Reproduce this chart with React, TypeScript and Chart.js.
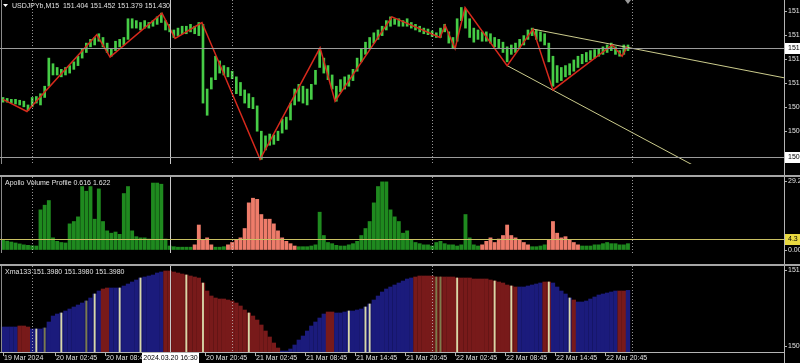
import { useEffect, useRef } from "react";
import { Chart, registerables } from "chart.js";

Chart.register(...registerables);

// ---------- time axis (units = M15 bars, one drawn bar per 30 minutes) ----------
const X_MIN = -1.44;
const X_MAX = 374.9;
const BAR_STEP = 2;

const xTickUnits = [0, 25, 49, 73, 97, 121, 145, 169, 193, 217, 241, 265, 289];
const xTickLabels = [
  "19 Mar 2024", "20 Mar 02:45", "20 Mar 08:45", "20 Mar 14:45", "20 Mar 20:45",
  "21 Mar 02:45", "21 Mar 08:45", "21 Mar 14:45", "21 Mar 20:45",
  "22 Mar 02:45", "22 Mar 08:45", "22 Mar 14:45", "22 Mar 20:45",
];
const daySeparatorUnits = [14, 110, 206, 302];
const crosshairUnit = 80;
const crosshairLabel = "2024.03.20 16:30";

// ---------- main price pane ----------
const mainTitle = "USDJPYb,M15  151.404 151.452 151.379 151.430";
const priceHighs = [
  151.008, 151.000, 150.992, 150.992, 150.984, 150.976, 150.944, 151.008, 151.016, 151.040,
  151.104, 151.344, 151.296, 151.264, 151.248, 151.264, 151.280, 151.312, 151.360, 151.424,
  151.472, 151.504, 151.520, 151.552, 151.520, 151.472, 151.424, 151.488, 151.504, 151.520,
  151.680, 151.680, 151.664, 151.648, 151.664, 151.648, 151.664, 151.696, 151.728, 151.664,
  151.632, 151.584, 151.600, 151.616, 151.616, 151.632, 151.616, 151.648, 151.632, 151.080,
  151.176, 151.360, 151.320, 151.280, 151.264, 151.232, 151.184, 151.136, 151.072, 151.040,
  151.008, 150.936, 150.720, 150.680, 150.696, 150.688, 150.720, 150.824, 150.840, 150.960,
  151.080, 151.120, 151.104, 151.080, 151.120, 151.240, 151.424, 151.344, 151.280, 151.200,
  151.104, 151.160, 151.184, 151.200, 151.248, 151.344, 151.424, 151.480, 151.520, 151.560,
  151.584, 151.616, 151.664, 151.696, 151.680, 151.680, 151.664, 151.680, 151.648, 151.632,
  151.616, 151.600, 151.592, 151.576, 151.560, 151.600, 151.632, 151.568, 151.520, 151.680,
  151.776, 151.760, 151.680, 151.600, 151.584, 151.568, 151.568, 151.552, 151.520, 151.504,
  151.480, 151.440, 151.456, 151.472, 151.504, 151.536, 151.584, 151.600, 151.584, 151.568,
  151.552, 151.472, 151.360, 151.280, 151.264, 151.280, 151.296, 151.328, 151.360, 151.376,
  151.392, 151.408, 151.416, 151.424, 151.440, 151.456, 151.472, 151.440, 151.408, 151.456,
  151.456,
];
const priceLows = [
  150.968, 150.968, 150.960, 150.952, 150.944, 150.928, 150.896, 150.928, 150.960, 150.944,
  151.008, 151.104, 151.200, 151.200, 151.184, 151.200, 151.216, 151.248, 151.280, 151.344,
  151.392, 151.440, 151.456, 151.488, 151.440, 151.392, 151.360, 151.408, 151.440, 151.456,
  151.504, 151.600, 151.600, 151.584, 151.600, 151.600, 151.616, 151.632, 151.648, 151.584,
  151.568, 151.520, 151.536, 151.552, 151.552, 151.568, 151.552, 151.536, 150.960, 150.856,
  151.080, 151.160, 151.216, 151.200, 151.184, 151.168, 151.040, 151.024, 150.960, 150.920,
  150.912, 150.720, 150.480, 150.560, 150.600, 150.608, 150.640, 150.704, 150.736, 150.816,
  150.944, 150.976, 150.960, 150.944, 150.992, 151.120, 151.264, 151.216, 151.160, 151.080,
  150.976, 151.056, 151.080, 151.104, 151.152, 151.232, 151.312, 151.376, 151.424, 151.472,
  151.504, 151.536, 151.584, 151.616, 151.632, 151.616, 151.616, 151.616, 151.600, 151.584,
  151.568, 151.552, 151.544, 151.528, 151.520, 151.520, 151.568, 151.472, 151.424, 151.488,
  151.664, 151.600, 151.520, 151.480, 151.504, 151.488, 151.488, 151.472, 151.440, 151.424,
  151.392, 151.312, 151.376, 151.392, 151.424, 151.456, 151.504, 151.536, 151.504, 151.488,
  151.456, 151.312, 151.104, 151.136, 151.152, 151.184, 151.200, 151.232, 151.264, 151.296,
  151.312, 151.328, 151.344, 151.360, 151.376, 151.392, 151.408, 151.376, 151.360, 151.376,
  151.408,
];
const zigzagUnits = [0, 11.5, 45, 51.4, 76.3, 82.6, 95.5, 123.4, 152.2, 159.4, 186.7, 209.8, 212.2, 217, 221.8, 242, 254.4, 264, 292.4, 297.2, 299.6];
const zigzagPrices = [150.992, 150.888, 151.544, 151.352, 151.728, 151.512, 151.648, 150.480, 151.432, 150.976, 151.696, 151.520, 151.624, 151.424, 151.776, 151.280, 151.592, 151.072, 151.456, 151.360, 151.440];
const upperTrendUnits = [254.4, 374.9];
const upperTrendPrices = [151.592, 151.176];
const lowerTrendUnits = [242, 331];
const lowerTrendPrices = [151.28, 150.432];
const bidPrice = 151.43;
const crosshairPrice = 150.504;
const priceAxisTicks = [151.744, 151.54, 151.336, 151.132, 150.928, 150.72];
const PRICE_MIN = 150.44;
const PRICE_MAX = 151.84;

// ---------- volume pane ----------
const volumeTitle = "Apollo Volume Profile 0.616 1.622";
const volumeValues = [
  4.1, 3.6, 3.2, 2.8, 2.4, 2.0, 1.8, 1.6, 1.5, 17,
  19, 21, 5, 3.5, 3, 2.8, 11, 12, 14, 27,
  25, 27, 13, 26, 12, 8, 7, 7.5, 6.5, 24,
  27, 8, 5.5, 5, 5, 4.5, 28.5, 28.5, 28, 4.5,
  1.5, 1.2, 1, 1, 1, 1, 2, 10.5, 4, 5,
  2, 1, 1, 1.2, 2, 3, 4, 5, 9, 20,
  22, 21.5, 15, 13, 13, 11, 8, 5, 3.5, 2.5,
  1.5, 1.2, 1.2, 1.2, 1.5, 2, 16, 6, 3, 2.5,
  1.8, 1.5, 1.5, 2, 2.5, 3.5, 6, 9, 12, 20,
  27, 29, 29, 17, 14, 12, 7, 8, 4, 3,
  2.5, 2, 2, 1.5, 3, 3.5, 2.5, 2, 2, 1.5,
  2, 15, 5, 2, 1.5, 2, 3.5, 5, 3, 4.5,
  6, 10.5, 6, 5, 4, 3, 2, 1.2, 1.2, 1.5,
  2, 4, 12, 7, 5, 5.5, 4, 3, 2, 1.5,
  1.5, 1.5, 2, 2, 2.5, 3, 2.5, 2.5, 2, 2, 2.5,
];
const volumeColorRuns: [number, string][] = [
  [46, "g"], [5, "r"], [3, "g"], [17, "r"], [44, "g"], [12, "r"], [4, "g"], [8, "r"], [12, "g"],
];
const volumeLevel = 4.3;
const volumeAxisLabels: [number, string][] = [[29.2, "29.25"], [0, "0.00"]];
const VOL_MIN = -1.5;
const VOL_MAX = 31.09;

// ---------- Xma pane ----------
const xmaTitle = "Xma133 151.3980 151.3980 151.3980";
const xmaValues = [
  150.995, 150.995, 150.995, 150.995, 151.006, 151.006, 150.995, 150.973, 150.973, 150.973,
  150.984, 151.050, 151.116, 151.138, 151.149, 151.171, 151.193, 151.215, 151.237, 151.259,
  151.281, 151.314, 151.358, 151.391, 151.413, 151.424, 151.424, 151.424, 151.424, 151.446,
  151.468, 151.490, 151.512, 151.534, 151.545, 151.556, 151.567, 151.589, 151.600, 151.611,
  151.611, 151.600, 151.589, 151.578, 151.567, 151.556, 151.545, 151.534, 151.479, 151.391,
  151.336, 151.314, 151.303, 151.303, 151.292, 151.281, 151.259, 151.226, 151.182, 151.149,
  151.116, 151.072, 151.017, 150.951, 150.885, 150.819, 150.764, 150.731, 150.731, 150.753,
  150.797, 150.852, 150.896, 150.951, 151.006, 151.050, 151.094, 151.138, 151.160, 151.160,
  151.149, 151.149, 151.160, 151.171, 151.171, 151.182, 151.193, 151.215, 151.248, 151.292,
  151.336, 151.380, 151.413, 151.435, 151.457, 151.479, 151.501, 151.523, 151.534, 151.545,
  151.556, 151.556, 151.556, 151.556, 151.545, 151.545, 151.545, 151.545, 151.545, 151.534,
  151.534, 151.534, 151.534, 151.523, 151.523, 151.523, 151.523, 151.512, 151.501, 151.490,
  151.479, 151.457, 151.446, 151.435, 151.435, 151.435, 151.446, 151.457, 151.468, 151.479,
  151.490, 151.490, 151.479, 151.435, 151.391, 151.358, 151.314, 151.292, 151.270, 151.270,
  151.281, 151.303, 151.325, 151.347, 151.358, 151.369, 151.380, 151.391, 151.391, 151.391,
  151.398,
];
// b = falling-blue, r = rising-red, y / o = thin neutral marker bars
const xmaTrend =
  "bbbbrrrbybobbbybbbbbobybrrbbybbbbybbbbbrrrrryrrryrrrrrrrrrryrrrrrrrbbbbbbbbbbbrrbbbybbbyybbbbbbbbbbrrrrroorrryrrrrrrrryrrryrbbbbbbrybbbbyrbbbbbbbbbbrrb";
const xmaAxisLabels: [number, string][] = [[151.622, "151.622"], [150.786, "150.786"]];
const XMA_MIN = 150.72;
const XMA_MAX = 151.666;

// ---------- styling ----------
const FONT = '7px "Liberation Sans", Arial, sans-serif';
const TEXT = "#e2e2e2";
const FRAME = "#b4b4b4";
const XMA_COLORS: Record<string, string> = { b: "#1b1b7c", r: "#781a1a", y: "#d8d8a8", o: "#7c7c4c" };
const VOL_COLORS: Record<string, string> = { g: "#1f8a1f", r: "#ee7c6a" };

const volumeColors: string[] = [];
volumeColorRuns.forEach(([n, c]) => {
  for (let i = 0; i < n; i++) volumeColors.push(VOL_COLORS[c]);
});

// base fill colour of each Xma bar (markers sit on top of the previous trend colour)
const xmaCodes = xmaTrend.split("");
const xmaBaseColors: string[] = [];
let lastTrend = "b";
xmaCodes.forEach((c) => {
  if (c === "b" || c === "r") lastTrend = c;
  xmaBaseColors.push(XMA_COLORS[lastTrend]);
});

function vLine(ctx: CanvasRenderingContext2D, x: number, y0: number, y1: number, color: string, dash: number[] = []) {
  ctx.save();
  ctx.strokeStyle = color;
  ctx.lineWidth = 1;
  ctx.setLineDash(dash);
  ctx.beginPath();
  ctx.moveTo(Math.round(x) + 0.5, y0);
  ctx.lineTo(Math.round(x) + 0.5, y1);
  ctx.stroke();
  ctx.restore();
}
function hLine(ctx: CanvasRenderingContext2D, y: number, x0: number, x1: number, color: string) {
  ctx.save();
  ctx.strokeStyle = color;
  ctx.lineWidth = 1;
  ctx.beginPath();
  ctx.moveTo(x0, Math.round(y) + 0.5);
  ctx.lineTo(x1, Math.round(y) + 0.5);
  ctx.stroke();
  ctx.restore();
}
function rightLabel(ctx: CanvasRenderingContext2D, right: number, y: number, text: string, box?: string) {
  ctx.save();
  ctx.font = FONT;
  ctx.textBaseline = "middle";
  ctx.textAlign = "left";
  if (box) {
    ctx.fillStyle = box;
    ctx.fillRect(right + 1, Math.round(y) - 5, 20, 11);
    ctx.fillStyle = "#000";
  } else {
    hLine(ctx, y, right, right + 3, FRAME);
    ctx.fillStyle = TEXT;
  }
  ctx.fillText(text, right + 4, Math.round(y) + 0.5);
  ctx.restore();
}
function title(ctx: CanvasRenderingContext2D, text: string, x: number, y: number) {
  ctx.save();
  ctx.font = FONT;
  ctx.textBaseline = "middle";
  ctx.fillStyle = TEXT;
  ctx.fillText(text, x, y);
  ctx.restore();
}
function commonFrame(chart: any) {
  const { ctx, chartArea: a, scales } = chart;
  const x = scales.x;
  daySeparatorUnits.forEach((u) => vLine(ctx, x.getPixelForValue(u), a.top, a.bottom, "rgba(200,200,200,0.75)", [1, 2]));
  vLine(ctx, x.getPixelForValue(crosshairUnit), a.top, a.bottom, "#c8c8c8");
  vLine(ctx, a.right, 0, chart.height, FRAME);
  vLine(ctx, 1, a.top, a.bottom, "#8a8a8a");
}

const xScale = (display: boolean) => ({
  type: "linear" as const,
  min: X_MIN,
  max: X_MAX,
  offset: false,
  display,
  grid: { display: false },
  border: { display: false },
  ticks: { display: false },
  afterFit: (s: any) => {
    s.height = 11;
  },
});
const yScale = (min: number, max: number) => ({
  type: "linear" as const,
  position: "right" as const,
  min,
  max,
  grid: { display: false },
  border: { display: false },
  ticks: { display: false },
  afterFit: (s: any) => {
    s.width = 16;
  },
});
const baseOptions = {
  animation: false as const,
  responsive: false,
  maintainAspectRatio: false,
  layout: { padding: 0 },
  events: [] as any[],
  plugins: { legend: { display: false }, tooltip: { enabled: false } },
};

function mainConfig(): any {
  return {
    type: "bar",
    data: {
      datasets: [
        {
          type: "line",
          data: zigzagUnits.map((u, i) => ({ x: u, y: zigzagPrices[i] })),
          borderColor: "#d6291c",
          borderWidth: 1.5,
          pointRadius: 0,
          order: 0,
        },
        {
          type: "line",
          data: upperTrendUnits.map((u, i) => ({ x: u, y: upperTrendPrices[i] })),
          borderColor: "#cbcb8c",
          borderWidth: 1,
          pointRadius: 0,
          order: 1,
        },
        {
          type: "line",
          data: lowerTrendUnits.map((u, i) => ({ x: u, y: lowerTrendPrices[i] })),
          borderColor: "#cbcb8c",
          borderWidth: 1,
          pointRadius: 0,
          order: 1,
        },
        {
          type: "bar",
          data: priceHighs.map((h, i) => ({ x: i * BAR_STEP, y: [priceLows[i], h] })),
          backgroundColor: "#46cc46",
          barThickness: 2,
          order: 2,
        },
      ],
    },
    options: {
      ...baseOptions,
      scales: { x: xScale(false), y: yScale(PRICE_MIN, PRICE_MAX) },
    },
    plugins: [
      {
        id: "mainOverlay",
        afterDatasetsDraw(chart: any) {
          const { ctx, chartArea: a, scales } = chart;
          const y = scales.y;
          commonFrame(chart);
          hLine(ctx, y.getPixelForValue(bidPrice), a.left, a.right, "#9c9c9c");
          hLine(ctx, y.getPixelForValue(crosshairPrice), a.left, a.right, "#9c9c9c");
          priceAxisTicks.forEach((v) => rightLabel(ctx, a.right, y.getPixelForValue(v), v.toFixed(3)));
          rightLabel(ctx, a.right, y.getPixelForValue(bidPrice), bidPrice.toFixed(3), "#ffffff");
          rightLabel(ctx, a.right, y.getPixelForValue(crosshairPrice), crosshairPrice.toFixed(3), "#ffffff");
          title(ctx, mainTitle, 12, 6);
          ctx.save();
          ctx.fillStyle = "#ffffff";
          ctx.beginPath();
          ctx.moveTo(3, 4);
          ctx.lineTo(8, 4);
          ctx.lineTo(5.5, 7);
          ctx.closePath();
          ctx.fill();
          ctx.fillStyle = "#9a9a9a";
          const sx = scales.x.getPixelForValue(300);
          ctx.beginPath();
          ctx.moveTo(sx - 3, 0);
          ctx.lineTo(sx + 3, 0);
          ctx.lineTo(sx, 4);
          ctx.closePath();
          ctx.fill();
          ctx.restore();
        },
      },
    ],
  };
}

function volumeConfig(): any {
  return {
    type: "bar",
    data: {
      datasets: [
        {
          data: volumeValues.map((v, i) => ({ x: i * BAR_STEP, y: v })),
          backgroundColor: volumeColors,
          barThickness: 3.2,
        },
      ],
    },
    options: {
      ...baseOptions,
      scales: { x: xScale(false), y: yScale(VOL_MIN, VOL_MAX) },
    },
    plugins: [
      {
        id: "volOverlay",
        afterDatasetsDraw(chart: any) {
          const { ctx, chartArea: a, scales } = chart;
          const y = scales.y;
          commonFrame(chart);
          hLine(ctx, y.getPixelForValue(volumeLevel), a.left, a.right, "#c9c063");
          volumeAxisLabels.forEach(([v, t]) => rightLabel(ctx, a.right, y.getPixelForValue(v), t));
          rightLabel(ctx, a.right, y.getPixelForValue(volumeLevel), String(volumeLevel), "#e8d840");
          title(ctx, volumeTitle, 5, 6);
        },
      },
    ],
  };
}

function xmaConfig(): any {
  const markerData: { x: number; y: [number, number] }[] = [];
  const markerColors: string[] = [];
  xmaCodes.forEach((c, i) => {
    if (c === "y" || c === "o") {
      markerData.push({ x: i * BAR_STEP, y: [XMA_MIN - 0.02, xmaValues[i]] });
      markerColors.push(XMA_COLORS[c]);
    }
  });
  return {
    type: "bar",
    data: {
      datasets: [
        {
          data: markerData,
          backgroundColor: markerColors,
          barThickness: 1.2,
          grouped: false,
          order: 0,
        },
        {
          data: xmaValues.map((v, i) => ({ x: i * BAR_STEP, y: [XMA_MIN - 0.02, v] })),
          backgroundColor: xmaBaseColors,
          barThickness: 3.7,
          grouped: false,
          order: 1,
        },
      ],
    },
    options: {
      ...baseOptions,
      scales: { x: xScale(true), y: yScale(XMA_MIN, XMA_MAX) },
    },
    plugins: [
      {
        id: "xmaOverlay",
        afterDatasetsDraw(chart: any) {
          const { ctx, chartArea: a, scales } = chart;
          const x = scales.x;
          const y = scales.y;
          commonFrame(chart);
          hLine(ctx, a.bottom, 0, a.right, FRAME);
          xmaAxisLabels.forEach(([v, t]) => rightLabel(ctx, a.right, y.getPixelForValue(v), t));
          title(ctx, xmaTitle, 5, 6);
          ctx.save();
          ctx.font = FONT;
          ctx.textBaseline = "middle";
          ctx.textAlign = "left";
          xTickUnits.forEach((u, i) => {
            const px = x.getPixelForValue(u);
            vLine(ctx, px, a.bottom + 1, a.bottom + 4, FRAME);
            ctx.fillStyle = TEXT;
            ctx.fillText(xTickLabels[i], Math.round(px) + 1, a.bottom + 6.5);
          });
          const cx = x.getPixelForValue(crosshairUnit);
          vLine(ctx, cx, a.top, a.bottom, "#c8c8c8");
          ctx.fillStyle = "#ffffff";
          ctx.fillRect(Math.round(cx) - 28, a.bottom + 1, 57, chart.height - a.bottom - 1);
          ctx.fillStyle = "#000000";
          ctx.textAlign = "center";
          ctx.fillText(crosshairLabel, Math.round(cx) + 0.5, a.bottom + 6.5);
          ctx.restore();
        },
      },
    ],
  };
}

export default function App() {
  const mainRef = useRef<HTMLCanvasElement>(null);
  const volRef = useRef<HTMLCanvasElement>(null);
  const xmaRef = useRef<HTMLCanvasElement>(null);

  useEffect(() => {
    const charts = [
      new Chart(mainRef.current as HTMLCanvasElement, mainConfig()),
      new Chart(volRef.current as HTMLCanvasElement, volumeConfig()),
      new Chart(xmaRef.current as HTMLCanvasElement, xmaConfig()),
    ];
    return () => charts.forEach((c) => c.destroy());
  }, []);

  const abs = (top: number, h: number): any => ({ position: "absolute", left: 0, top, width: 800, height: h, display: "block" });

  return (
    <div style={{ position: "fixed", left: 0, top: 0, width: 800, height: 363, background: "#000", overflow: "hidden" }}>
      <canvas ref={mainRef} width={800} height={175} style={abs(0, 175)} />
      <div style={{ ...abs(175, 2), background: "#a6a6a6" }} />
      <canvas ref={volRef} width={800} height={87} style={abs(177, 87)} />
      <div style={{ ...abs(264, 2), background: "#a6a6a6" }} />
      <canvas ref={xmaRef} width={800} height={97} style={abs(266, 97)} />
    </div>
  );
}
